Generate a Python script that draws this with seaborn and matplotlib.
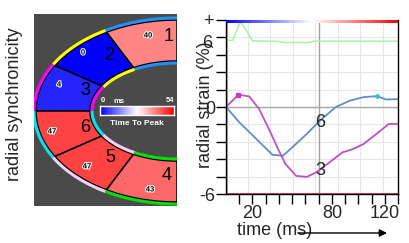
import numpy as np
import pandas as pd
import matplotlib
matplotlib.use("Agg")
import matplotlib.pyplot as plt
import seaborn as sns
from matplotlib.colors import LinearSegmentedColormap, Normalize
from matplotlib.patches import Polygon
from matplotlib.ticker import FixedLocator
import matplotlib.patheffects as pe

# ---------------- data ----------------
segments = ["1", "2", "3", "6", "5", "4"]          # ordered around the ring (top -> bottom)
time_to_peak = [40, 0, 4, 47, 47, 43]               # ms
seg_edge_colors = ["#1e90ff", "#ffff00", "#ff00ff", "#00e5ee", "#f2d2f2", "#00e000"]
ttp_max = 54

time_seg6 = [0, 10, 23, 35, 43, 50, 61, 71, 83, 94, 104, 114, 121, 130]
strain_seg6 = [0, -1.05, -2.21, -3.29, -3.36, -2.79, -1.86, -0.94, 0.0, 0.45, 0.68, 0.75, 0.52, 0.54]

time_seg3 = [0, 9.4, 17.5, 25, 33, 40, 45, 53, 61, 68, 78, 88, 96, 104, 112, 123, 130]
strain_seg3 = [0, 0.85, 0.73, -0.13, -1.63, -3.02, -3.94, -4.75, -4.82, -4.52, -3.83, -3.13,
               -2.9, -2.55, -1.98, -1.17, -1.17]

time_seg4 = [0, 5, 11, 16, 20, 40, 43, 63, 66, 130]
strain_seg4 = [4.6, 4.6, 5.88, 5.19, 4.56, 4.52, 4.45, 4.45, 4.54, 4.54]

x_tick_labels = {20: "20", 80: "80", 120: "120"}
y_tick_labels = {-6: "-6", 0: "0"}

# ---------------- style ----------------
sns.set_style("white")
plt.rcParams["font.family"] = ["Liberation Sans", "DejaVu Sans"]

W, H = 409, 243
fig = plt.figure(figsize=(W / 100, H / 100), dpi=100)


def fax(l, t, r, b):
    return fig.add_axes([l / W, 1 - b / H, (r - l) / W, (b - t) / H])


cmap = LinearSegmentedColormap.from_list("ttp", ["#0000ff", "#ffffff", "#ff0000"])
norm = Normalize(0, ttp_max)

# ---------------- left panel: ring ----------------
ax1 = fax(34, 14, 177, 206)
ax1.set_facecolor("#4a4a4a")
ax1.set_xlim(34, 177)
ax1.set_ylim(206, 14)
ax1.set_xticks([])
ax1.set_yticks([])
for s in ax1.spines.values():
    s.set_visible(False)

cx, cy = 177, 111
Ao, Bo, Ai, Bi = 141, 91, 87, 50
for i, (v, ec) in enumerate(zip(time_to_peak, seg_edge_colors)):
    t = np.radians(np.linspace(90 + 30 * i, 120 + 30 * i, 60))
    ox, oy = cx + Ao * np.cos(t), cy - Bo * np.sin(t)
    ix, iy = cx + Ai * np.cos(t), cy - Bi * np.sin(t)
    ax1.plot(cx + (Ao + 2) * np.cos(t), cy - (Bo + 2) * np.sin(t), color=ec, lw=2.2,
             solid_capstyle="butt")
    ax1.plot(cx + (Ai - 2) * np.cos(t), cy - (Bi - 2) * np.sin(t), color=ec, lw=2.2,
             solid_capstyle="butt")
    poly = Polygon(np.column_stack([np.r_[ox, ix[::-1]], np.r_[oy, iy[::-1]]]),
                   closed=True, fc=cmap(norm(v)), ec="black", lw=1.1)
    ax1.add_patch(poly)

num_pos = [(169, 36), (109, 55), (85, 90), (85, 127), (110, 157), (167, 175)]
val_pos = [(148, 36), (83, 53), (59, 85), (52, 132), (87, 167), (150, 190)]
for seg, v, (nx, ny), (vx, vy) in zip(segments, time_to_peak, num_pos, val_pos):
    ax1.text(nx, ny, seg, fontsize=13, ha="center", va="center", color="black")
    ax1.text(vx, vy, str(v), fontsize=5.5, fontweight="bold", ha="center", va="center",
             color="black", path_effects=[pe.withStroke(linewidth=1.5, foreground="white")])

ax1.text(101, 100.5, "0", fontsize=5.5, fontweight="bold", color="white", ha="left", va="center")
ax1.text(113, 101, "ms", fontsize=5.5, fontweight="bold", color="white", ha="left", va="center")
ax1.text(174, 100.5, str(ttp_max), fontsize=5.5, fontweight="bold", color="white", ha="right",
         va="center")
ax1.text(137, 123.5, "Time To Peak", fontsize=6, fontweight="bold", color="white", ha="center",
         va="center")
ax1.set_ylabel("radial synchronicity", fontsize=13)
ax1.yaxis.set_label_coords((15 - 34) / 143, (206 - 104) / 192)
ax1.yaxis.label.set_va("center")

cax = fax(100, 106, 174, 115)
cax.imshow(np.linspace(0, 1, 256)[None, :], aspect="auto", cmap=cmap)
cax.set_xticks([])
cax.set_yticks([])
for s in cax.spines.values():
    s.set_color("white")
    s.set_linewidth(1)

# ---------------- right panel: strain curves ----------------
ax2 = fax(226, 20, 398, 194)
ax2.set_xlim(0, 130)
ax2.set_ylim(-6, 6)

ax2.xaxis.set_minor_locator(FixedLocator(np.arange(16.5, 130, 17)))
ax2.grid(True, which="minor", axis="x", color="#e6e6e6", lw=0.8)
ax2.grid(True, which="major", axis="y", color="#e6e6e6", lw=0.8)
ax2.tick_params(which="minor", length=0)

ax2.axvline(70, color="#a0a0a0", lw=1)
ax2.axhline(0, color="#a8a8a8", lw=1)
ax2.axvline(0, color="#ff8a8a", lw=2)
ax2.axhline(-6, color="#d04040", lw=2)
ax2.imshow(np.linspace(0, 1, 256)[None, :], aspect="auto", cmap=cmap,
           extent=[0, 130, 5.8, 6], zorder=3)
ax2.set_xlim(0, 130)
ax2.set_ylim(-6, 6)

df4 = pd.DataFrame({"time": time_seg4, "strain": strain_seg4, "segment": "4"})
df6 = pd.DataFrame({"time": time_seg6, "strain": strain_seg6, "segment": "6"})
df3 = pd.DataFrame({"time": time_seg3, "strain": strain_seg3, "segment": "3"})
sns.lineplot(data=df4, x="time", y="strain", color="#a8f0a8", lw=1.1, ax=ax2,
             estimator=None, sort=False, legend=False)
sns.lineplot(data=df6, x="time", y="strain", color="#5b8fd0", lw=1.3, ax=ax2,
             estimator=None, sort=False, legend=False)
sns.lineplot(data=df3, x="time", y="strain", color="#c050c8", lw=1.3, ax=ax2,
             estimator=None, sort=False, legend=False)

i3 = int(np.argmax(strain_seg3))
i6 = int(np.argmax(strain_seg6))
ax2.plot(time_seg3[i3], strain_seg3[i3], "s", color="#c040c0", ms=2.5)
ax2.plot(time_seg6[i6], strain_seg6[i6], "o", color="#30c0e8", ms=2.5)

ax2.text(71, -1.05, "6", fontsize=13, ha="center", va="center")
ax2.text(71, -4.36, "3", fontsize=13, ha="center", va="center")

xt = np.arange(10, 131, 10)
ax2.set_xticks(xt)
ax2.set_xticklabels([x_tick_labels.get(int(v), "") for v in xt])
yt = np.linspace(-6, 6, 11)
ax2.set_yticks(yt)
ax2.set_yticklabels([y_tick_labels.get(int(round(v)), "") if abs(v - round(v)) < 1e-9 else ""
                     for v in yt])
ax2.tick_params(which="major", direction="out", length=7, width=1, color="black",
                labelsize=13, pad=1, bottom=True, left=True)
for side in ["left", "bottom", "right"]:
    ax2.spines[side].set_color("black")
    ax2.spines[side].set_linewidth(1)
ax2.spines["top"].set_visible(False)

ax2.set_xlabel("time (ms)", fontsize=13)
ax2.xaxis.set_label_coords((275 - 226) / 172, (194 - 230) / 174)
ax2.xaxis.label.set_va("center")
ax2.set_ylabel("radial strain (%)", fontsize=13)
ax2.yaxis.set_label_coords((205 - 226) / 172, (194 - 105) / 174)
ax2.yaxis.label.set_va("center")

fig.text(207 / W, 1 - 43 / H, "6", fontsize=13, ha="center", va="center")
fig.text(208 / W, 1 - 21 / H, "+", fontsize=13, ha="center", va="center")

ax2.annotate("", xy=(387 / W, 1 - 233 / H), xytext=(298 / W, 1 - 233 / H),
             xycoords="figure fraction", textcoords="figure fraction",
             arrowprops=dict(arrowstyle="-|>", color="black", lw=1, mutation_scale=11,
                             shrinkA=0, shrinkB=0))

fig.savefig("out.png", dpi=100)
